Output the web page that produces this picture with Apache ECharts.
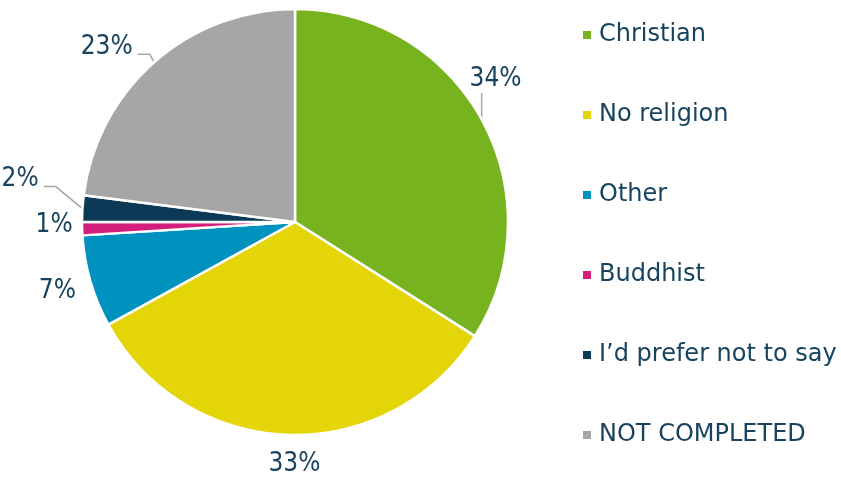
<!DOCTYPE html>
<html><head><meta charset="utf-8">
<script src="https://cdn.jsdelivr.net/npm/echarts@6/dist/echarts.min.js"></script>
<style>html,body{margin:0;padding:0;background:#fff}#c{width:841px;height:480px}</style>
</head><body><div id="c"></div>
<script>
const categories = ["Christian", "No religion", "Other", "Buddhist", "I\u2019d prefer not to say", "NOT COMPLETED"];
const values = [34, 33, 7, 1, 2, 23];
const colors = ["#77b21f", "#e3d507", "#0092be", "#d41e7b", "#0c3a56", "#a6a6a6"];
const textColor = "#17435f";

// layout constants
const CX = 295, CY = 222, R = 213, GAP = 13;
// labels that were dragged away from their default spot (offset in px), these get a leader line
const labelNudge = { 0: [-23, -20], 5: [-21, 15], 4: [-30, -27] };
// small fine-tuning of default label spots (no leader line)
const labelShift = { 1: [7, 3], 3: [4, -4] };

const total = values.reduce((a, b) => a + b, 0);
function midDir(i) {
  let cum = 0;
  for (let k = 0; k < i; k++) cum += values[k];
  const th = (cum + values[i] / 2) / total * 2 * Math.PI;
  return [Math.sin(th), -Math.cos(th)];
}

const chart = echarts.init(document.getElementById('c'));
chart.setOption({
  animation: false,
  color: colors,
  legend: {
    orient: 'vertical',
    left: 576, top: 17,
    icon: 'rect', itemWidth: 10, itemHeight: 10, itemGap: 54,
    textStyle: { color: textColor, fontSize: 24, fontFamily: 'DejaVu Sans', lineHeight: 26, padding: [0, 0, 0, 2] },
    data: categories
  },
  series: [{
    type: 'pie',
    center: [CX, CY],
    radius: [0, R],
    startAngle: 90,
    clockwise: true,
    itemStyle: { borderColor: '#fff', borderWidth: 2.5 },
    label: {
      show: true, position: 'outside',
      formatter: '{c}%', overflow: 'none', edgeDistance: 0,
      color: textColor, fontSize: 26, fontFamily: '"Liberation Sans Narrow", "DejaVu Sans Condensed", sans-serif'
    },
    labelLine: { show: true, lineStyle: { color: '#a6a6a6', width: 1.5 } },
    labelLayout: function (p) {
      const i = p.dataIndex;
      const d = midDir(i);
      const w = p.labelRect.width, h = p.labelRect.height;
      const dist = R + GAP + Math.abs(d[0]) * w / 2 + Math.abs(d[1]) * h / 2;
      let cx = CX + dist * d[0], cy = CY + dist * d[1];
      const ex = CX + R * d[0], ey = CY + R * d[1];
      const n = labelNudge[i];
      let pts;
      if (n) {
        cx += n[0]; cy += n[1];
        if (Math.abs(cx - ex) < w / 2 + 5) {
          pts = [[ex, ey], [ex, cy + 14], [ex, cy + 14]];
        } else if (cx < ex) {
          const rx = cx + w / 2 + 5;
          pts = [[ex, ey], [rx + 12, cy + 7], [rx, cy + 7]];
        } else {
          const lx = cx - w / 2 - 5;
          pts = [[ex, ey], [lx - 12, cy + 7], [lx, cy + 7]];
        }
      } else {
        const s = labelShift[i];
        if (s) { cx += s[0]; cy += s[1]; }
        pts = [[ex, ey], [ex, ey], [ex, ey]];
      }
      return { x: cx, y: cy, align: 'center', verticalAlign: 'middle', labelLinePoints: pts };
    },
    data: categories.map((n, i) => ({ name: n, value: values[i], labelLine: { show: !!labelNudge[i] } }))
  }]
});
</script></body></html>
